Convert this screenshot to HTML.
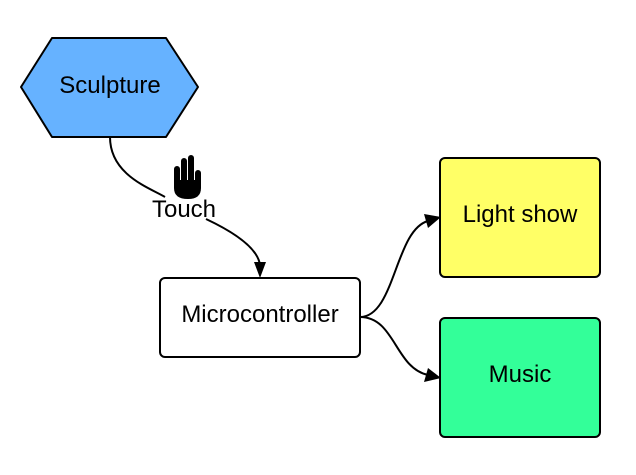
<!DOCTYPE html>
<html><head><style>
html,body{margin:0;padding:0;background:#fff;}
svg{display:block;}
text{font-family:"Liberation Sans",Arial,sans-serif;font-size:24px;fill:#000;}
</style></head><body>
<svg width="636" height="475" viewBox="0 0 636 475" xmlns="http://www.w3.org/2000/svg">
<polygon points="21,87 52,38 166,38 198,87 166,137 52,137" fill="#66b2ff" stroke="#000" stroke-width="2" stroke-linejoin="round"/>
<text x="110" y="93" text-anchor="middle">Sculpture</text>

<path d="M110,137 C110,175 150,188 165,197" fill="none" stroke="#000" stroke-width="2"/>
<path d="M206,219 C240,235 258,250 260,265" fill="none" stroke="#000" stroke-width="2"/>
<path d="M254,262 L266,262 L260,278 Z" fill="#000"/>
<text x="184" y="217" text-anchor="middle">Touch</text>
<g fill="#000">
<rect x="174" y="166" width="6" height="22" rx="3"/>
<rect x="181" y="158" width="6" height="28" rx="3"/>
<rect x="188" y="155" width="6" height="30" rx="3"/>
<rect x="195" y="170" width="6" height="20" rx="3"/>
<path d="M174,180 L201,180 L201,188 Q201,199 188,199 Q174,199 174,188 Z"/>
</g>

<rect x="160" y="278" width="200" height="79" rx="5" fill="#fff" stroke="#000" stroke-width="2"/>
<text x="260" y="322" text-anchor="middle">Microcontroller</text>

<path d="M360,317 C395,317 395,230 428,221" fill="none" stroke="#000" stroke-width="2"/>
<path d="M424,214 L441,217 L428,228 Z" fill="#000"/>
<path d="M360,317 C395,317 395,368 428,375" fill="none" stroke="#000" stroke-width="2"/>
<path d="M428,368 L441,378 L424,382 Z" fill="#000"/>

<rect x="440" y="158" width="160" height="119" rx="5" fill="#ffff66" stroke="#000" stroke-width="2"/>
<text x="520" y="222" text-anchor="middle">Light show</text>
<rect x="440" y="318" width="160" height="119" rx="5" fill="#33ff99" stroke="#000" stroke-width="2"/>
<text x="520" y="382" text-anchor="middle">Music</text>
</svg>
</body></html>
